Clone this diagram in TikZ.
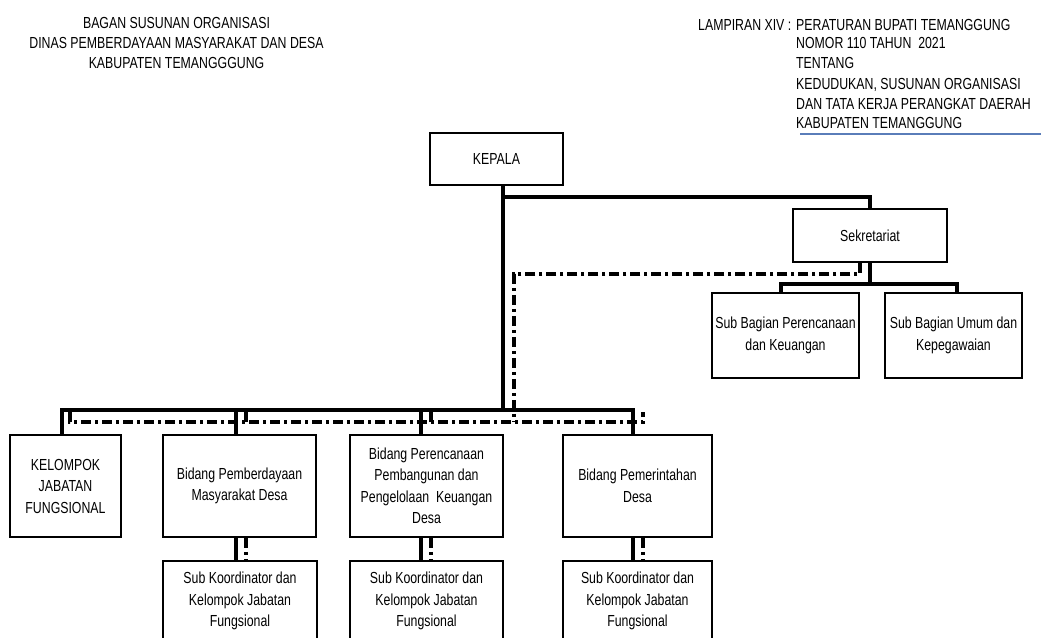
\documentclass[tikz,border=0pt]{standalone}
\usepackage{fontspec}
\setmainfont{Liberation Sans}[FakeStretch=0.77]
\begin{document}
\begin{tikzpicture}[x=1pt,y=-1pt,
  box/.style={draw, line width=1.5pt, align=center, inner sep=0pt, font=\fontsize{16}{21.5}\selectfont},
  conn/.style={line width=3.2pt},
  dd/.style={line width=3.2pt, dash pattern=on 10pt off 4pt on 3pt off 4pt},
  hdr/.style={anchor=base, inner sep=0pt, font=\fontsize{16}{20}\selectfont},
  hdrl/.style={anchor=base west, inner sep=0pt, font=\fontsize{16}{20}\selectfont}]
\useasboundingbox (0,0) rectangle (1041,637);
\clip (0,0) rectangle (1041,637);

% header left
\node[hdr] (t1) at (176.5,28.5) {BAGAN SUSUNAN ORGANISASI};
\node[hdr] (t2) at (176.5,48.5) {DINAS PEMBERDAYAAN MASYARAKAT DAN DESA};
\node[hdr] (t3) at (176.5,68.5) {KABUPATEN TEMANGGGUNG};

% header right
\node[hdrl] (r0) at (698,30.5) {LAMPIRAN XIV :};
\node[hdrl] (r1) at (796,30.5) {PERATURAN BUPATI TEMANGGUNG};
\node[hdrl] (r2) at (796,48.5) {NOMOR 110 TAHUN\ \ 2021};
\node[hdrl] (r3) at (796,68.5) {TENTANG};
\node[hdrl] (r4) at (796,89) {KEDUDUKAN, SUSUNAN ORGANISASI};
\node[hdrl] (r5) at (796,109) {DAN TATA KERJA PERANGKAT DAERAH};
\node[hdrl] (r6) at (796,128.5) {KABUPATEN TEMANGGUNG};
\coordinate (ul0) at (800,134);
\coordinate (ul1) at (1041,134);
\draw[line width=1.4pt, color={rgb,255:red,90;green,125;blue,185}] (ul0) -- (ul1);

% boxes
\node[box, minimum width=133pt, minimum height=52pt] (kepala) at (496.5,159) {KEPALA};
\node[box, minimum width=154pt, minimum height=53pt] (sek) at (870,235.5) {Sekretariat};
\node[box, minimum width=147pt, minimum height=85pt] (sb1) at (785.5,335.5) {Sub Bagian Perencanaan\\dan Keuangan};
\node[box, minimum width=137pt, minimum height=85pt] (sb2) at (953.5,335.5) {Sub Bagian Umum dan\\Kepegawaian};
\node[box, minimum width=111pt, minimum height=102pt] (kjf) at (65.5,486) {KELOMPOK\\JABATAN\\FUNGSIONAL};
\node[box, minimum width=153pt, minimum height=102pt] (b1) at (239.5,486) {Bidang Pemberdayaan\\Masyarakat Desa};
\node[box, minimum width=153pt, minimum height=102pt] (b2) at (426.5,486) {Bidang Perencanaan\\Pembangunan dan\\Pengelolaan\ \ Keuangan\\Desa};
\node[box, minimum width=149pt, minimum height=102pt] (b3) at (637.5,486) {Bidang Pemerintahan\\Desa};
\node[box, minimum width=154pt, minimum height=80pt] (s1) at (240,601) {Sub Koordinator dan\\Kelompok Jabatan\\Fungsional};
\node[box, minimum width=153pt, minimum height=80pt] (s2) at (426.5,601) {Sub Koordinator dan\\Kelompok Jabatan\\Fungsional};
\node[box, minimum width=149pt, minimum height=80pt] (s3) at (637.5,601) {Sub Koordinator dan\\Kelompok Jabatan\\Fungsional};

% solid connectors
\coordinate (j1) at (503,197);
\coordinate (trunk) at (503,410);
\coordinate (j2) at (870,284);
\coordinate (sbl) at (781,284);
\coordinate (sbr) at (957,284);
\coordinate (bl) at (62,410);
\coordinate (c1) at (236,410);
\coordinate (c2) at (421,410);
\coordinate (c3) at (633,410);

\draw[conn] (kepala.south -| trunk) -- (trunk);
\draw[conn] (j1) -- (j1 -| sek.north) -- (sek.north);
\draw[conn] (sek.south) -- (j2);
\draw[conn] (sb1.north -| sbl) -- (sbl) -- (sbr) -- (sb2.north -| sbr);
\draw[conn] (kjf.north -| bl) -- (bl) -- (c3) -- (b3.north -| c3);
\draw[conn] (c1) -- (b1.north -| c1);
\draw[conn] (c2) -- (b2.north -| c2);
\draw[conn] (b1.south -| c1) -- (s1.north -| c1);
\draw[conn] (b2.south -| c2) -- (s2.north -| c2);
\draw[conn] (b3.south -| c3) -- (s3.north -| c3);

% dash-dot connectors
\coordinate (d0) at (860,274);
\coordinate (d1) at (514,274);
\coordinate (d2) at (514,422);
\coordinate (e0) at (70,422);
\coordinate (e1) at (246,422);
\coordinate (e2) at (431,422);
\coordinate (e3) at (643,422);

\draw[dd] (sek.south -| d0) -- (d0) -- (d1) -- (d2);
\draw[dd] ([yshift=10pt]e0) -- (e0) -- (e3) -- ([yshift=10pt]e3);
\draw[dd] (e1) -- ([yshift=10pt]e1);
\draw[dd] (e2) -- ([yshift=10pt]e2);
\draw[dd] (b1.south -| e1) -- (s1.north -| e1);
\draw[dd] (b2.south -| e2) -- (s2.north -| e2);
\draw[dd] (b3.south -| e3) -- (s3.north -| e3);
\end{tikzpicture}
\end{document}
